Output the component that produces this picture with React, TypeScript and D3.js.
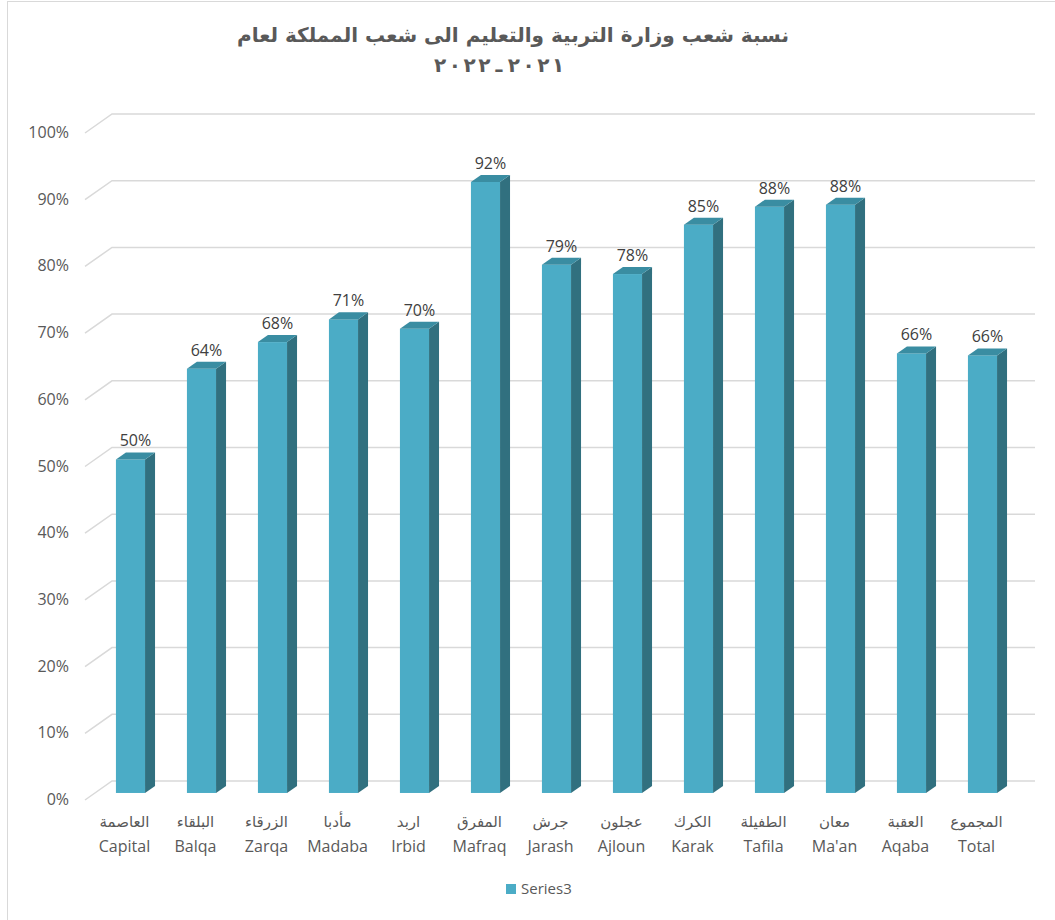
import { useEffect, useRef } from "react";
import * as d3 from "d3";

const categoriesAr = ["العاصمة", "البلقاء", "الزرقاء", "مأدبا", "اربد", "المفرق", "جرش", "عجلون", "الكرك", "الطفيلة", "معان", "العقبة", "المجموع"];
const categoriesEn = ["Capital", "Balqa", "Zarqa", "Madaba", "Irbid", "Mafraq", "Jarash", "Ajloun", "Karak", "Tafila", "Ma'an", "Aqaba", "Total"];
const series3 = [0.5, 0.636, 0.676, 0.71, 0.696, 0.916, 0.792, 0.778, 0.852, 0.879, 0.882, 0.659, 0.656];
const yTicks = [0, 0.1, 0.2, 0.3, 0.4, 0.5, 0.6, 0.7, 0.8, 0.9, 1];
const titleLine1 = "نسبة شعب وزارة التربية والتعليم الى شعب المملكة لعام";
// second title line, in visual (left to right) order
const titleLine2 = ["٢", "٠", "٢", "٢", "ـ", "٢", "٠", "٢", "١"];

const W = 1055;
const H = 920;

const App = () => {
  const ref = useRef<SVGSVGElement>(null);

  useEffect(() => {
    const svg = d3.select(ref.current);
    svg.selectAll("*").remove();

    // plot geometry (front plane) + depth vector of the 3D floor
    const left = 85;
    const right = 1008;
    const depthX = 27;
    const depthY = -19;
    const t0 = 0.37; // bar front in depth
    const t1 = 0.74; // bar back in depth

    const x = d3
      .scaleBand<string>()
      .domain(categoriesEn)
      .range([left, right])
      .paddingInner(0.59)
      .paddingOuter(0.295);
    const y = d3.scaleLinear().domain([0, 1]).range([800, 133]);
    const pct = d3.format(".0%");

    // chart area border
    svg
      .append("rect")
      .attr("x", 7.5)
      .attr("y", 1.5)
      .attr("width", 1100)
      .attr("height", 1000)
      .attr("fill", "#fff")
      .attr("stroke", "#d9d9d9");

    // back wall + side wall gridlines
    const grid = svg.append("g");
    yTicks.forEach((v) => {
      const yf = y(v);
      grid
        .append("path")
        .attr("d", `M${left},${yf}L${left + depthX},${yf + depthY}L${right + depthX},${yf + depthY}`)
        .attr("fill", "none")
        .attr("stroke", "#d9d9d9")
        .attr("stroke-width", 1.5);
    });

    // y axis labels
    svg
      .append("g")
      .selectAll("text")
      .data(yTicks)
      .enter()
      .append("text")
      .attr("x", 69)
      .attr("y", (d) => y(d) + 5)
      .attr("text-anchor", "end")
      .attr("font-family", "'Open Sans', sans-serif")
      .attr("font-size", 16)
      .attr("fill", "#595959")
      .text((d) => pct(d));

    // bars
    const bw = x.bandwidth();
    const dx = depthX * (t1 - t0);
    const dy = depthY * (t1 - t0);
    const bars = svg
      .append("g")
      .selectAll("g")
      .data(series3.map((v, i) => ({ v, c: categoriesEn[i] })))
      .enter()
      .append("g");

    const bx = (d: { c: string }) => (x(d.c) as number) + depthX * t0;
    const top = (d: { v: number }) => y(d.v) + depthY * t0;
    const base = y(0) + depthY * t0;

    bars
      .append("rect")
      .attr("x", bx)
      .attr("y", top)
      .attr("width", bw)
      .attr("height", (d) => base - top(d))
      .attr("fill", "#4bacc6");
    bars
      .append("path")
      .attr("d", (d) => {
        const xr = bx(d) + bw;
        return `M${xr},${top(d)}L${xr + dx},${top(d) + dy}L${xr + dx},${base + dy}L${xr},${base}Z`;
      })
      .attr("fill", "#31707f");
    bars
      .append("path")
      .attr("d", (d) => {
        const xl = bx(d);
        const tp = top(d);
        return `M${xl},${tp}L${xl + dx},${tp + dy}L${xl + bw + dx},${tp + dy}L${xl + bw},${tp}Z`;
      })
      .attr("fill", "#3a8da2");

    // data labels
    bars
      .append("text")
      .attr("x", (d) => bx(d) + bw / 2 + dx / 2)
      .attr("y", (d) => top(d) + dy - 6)
      .attr("text-anchor", "middle")
      .attr("font-family", "'Open Sans', sans-serif")
      .attr("font-size", 16)
      .attr("fill", "#404040")
      .text((d) => pct(d.v));

    // category labels
    const cats = svg.append("g");
    categoriesEn.forEach((c, i) => {
      const cx = (x(c) as number) + bw / 2 + 4;
      cats
        .append("text")
        .attr("x", cx)
        .attr("y", 827)
        .attr("text-anchor", "middle")
        .attr("font-family", "'DejaVu Sans', sans-serif")
        .attr("font-size", 15)
        .attr("fill", "#595959")
        .text(categoriesAr[i]);
      cats
        .append("text")
        .attr("x", cx)
        .attr("y", 852)
        .attr("text-anchor", "middle")
        .attr("font-family", "'Open Sans', sans-serif")
        .attr("font-size", 16)
        .attr("fill", "#595959")
        .text(c);
    });

    // title
    svg
      .append("text")
      .attr("x", 513)
      .attr("y", 42)
      .attr("text-anchor", "middle")
      .attr("font-family", "'DejaVu Sans', sans-serif")
      .attr("font-weight", "bold")
      .attr("font-size", 20)
      .attr("fill", "#595959")
      .text(titleLine1);

    const tx = d3
      .scalePoint<number>()
      .domain(d3.range(titleLine2.length))
      .range([440, 558]);
    const t2 = svg
      .append("text")
      .attr("y", 72)
      .attr("text-anchor", "middle")
      .attr("font-family", "'DejaVu Sans', sans-serif")
      .attr("font-weight", "bold")
      .attr("font-size", 20)
      .attr("fill", "#595959");
    titleLine2.forEach((ch, i) => {
      t2.append("tspan")
        .attr("x", tx(i) as number)
        .attr("y", 72)
        .text(ch);
    });

    // legend
    const lg = svg.append("g").attr("transform", "translate(506,884)");
    lg.append("rect").attr("width", 10).attr("height", 10).attr("fill", "#4bacc6");
    lg.append("text")
      .attr("x", 15)
      .attr("y", 10)
      .attr("font-family", "'Open Sans', sans-serif")
      .attr("font-size", 15)
      .attr("fill", "#595959")
      .text("Series3");
  }, []);

  return (
    <svg
      ref={ref}
      width={W}
      height={H}
      style={{ position: "absolute", left: 0, top: 0, background: "#fff" }}
    />
  );
};

export default App;
